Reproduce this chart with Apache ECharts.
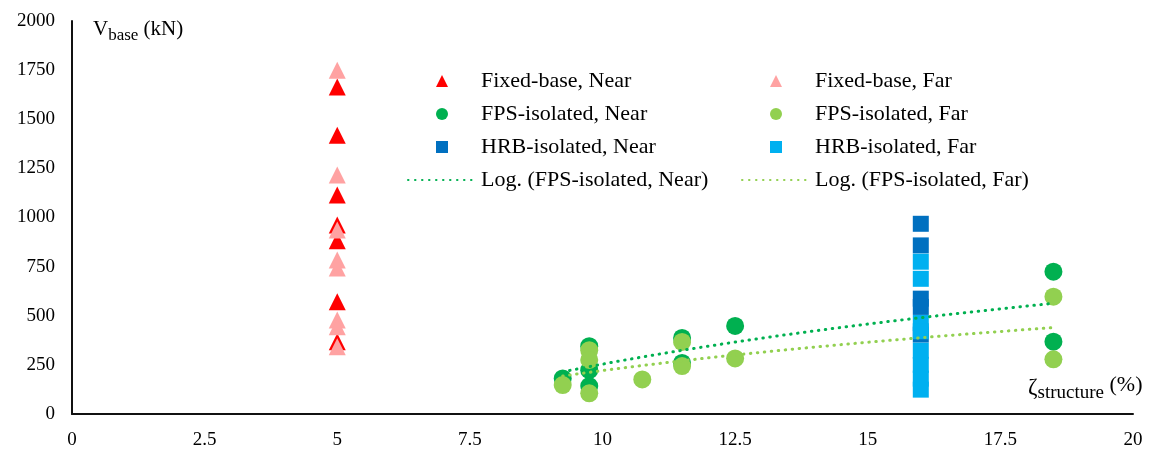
<!DOCTYPE html>
<html>
<head>
<meta charset="utf-8">
<script src="https://cdn.jsdelivr.net/npm/echarts@6/dist/echarts.min.js"></script>
<style>
  html, body { margin: 0; padding: 0; background: #ffffff; }
  #chart { width: 1153px; height: 452px; }
</style>
</head>
<body>
<div id="chart"></div>
<script>
// Base shear V_base (kN) against structural damping ratio (%)
const xTickLabels = ['0', '2.5', '5', '7.5', '10', '12.5', '15', '17.5', '20'];
const yTickLabels = ['0', '250', '500', '750', '1000', '1250', '1500', '1750', '2000'];

const fixedNear = [[5, 1664], [5, 1418], [5, 1115], [5, 962], [5, 882], [5, 571], [5, 368]];
const fixedFar = [[5, 1750], [5, 1216], [5, 936], [5, 784], [5, 743], [5, 478], [5, 444], [5, 342]];

const fpsNear = [[9.25, 181], [9.75, 345], [9.75, 223], [9.75, 142], [11.5, 387], [11.5, 260],
                 [12.5, 448], [18.5, 724], [18.5, 368]];
const fpsFar = [[9.25, 147], [9.75, 325], [9.75, 275], [9.75, 105], [10.75, 176], [11.5, 367],
                [11.5, 244], [12.5, 283], [18.5, 597], [18.5, 278]];

const hrbNear = [[16, 968], [16, 858], [16, 587], [16, 545], [16, 404]];
const hrbFar = [[16, 775], [16, 688], [16, 463], [16, 421], [16, 322], [16, 250], [16, 180], [16, 124]];

const FONT = 'Liberation Serif';

// Least-squares fit of y = a*ln(x) + b, sampled between the smallest and largest x
function logTrend(points, steps) {
  const n = points.length;
  let sx = 0, sy = 0, sxx = 0, sxy = 0;
  points.forEach(([x, y]) => {
    const lx = Math.log(x);
    sx += lx; sy += y; sxx += lx * lx; sxy += lx * y;
  });
  const a = (n * sxy - sx * sy) / (n * sxx - sx * sx);
  const b = (sy - a * sx) / n;
  const xs = points.map(p => p[0]);
  const x0 = Math.min(...xs), x1 = Math.max(...xs);
  const out = [];
  for (let i = 0; i <= steps; i++) {
    const x = x0 + (x1 - x0) * i / steps;
    out.push([x, a * Math.log(x) + b]);
  }
  return out;
}

const scatter = (name, data, symbol, size, color) => ({
  name, type: 'scatter', data, symbol, symbolSize: size,
  itemStyle: { color, opacity: 1 },
  emphasis: { disabled: true }
});

const trend = (name, data, color) => ({
  name, type: 'line', data: logTrend(data, 60), symbol: 'none', smooth: false,
  lineStyle: { color, width: 3, type: [0.5, 6.5], cap: 'round' },
  itemStyle: { color },
  emphasis: { disabled: true }
});

// Legend icons kept square and centred inside the wide legend slot
const ICON_TRI = 'path://M10,0L20,20L0,20Z';
const ICON_DOT = 'path://M10,0A10,10,0,1,1,10,20A10,10,0,1,1,10,0Z';
const ICON_SQ = 'path://M0,0H20V20H0Z';
const hiddenMarker = { opacity: 0 };

const legendText = { fontFamily: FONT, fontSize: 22, color: '#000', lineHeight: 22 };
const legendBase = {
  orient: 'vertical', top: 65, itemWidth: 68, itemHeight: 12, itemGap: 11,
  textStyle: legendText, selectedMode: false, symbolKeepAspect: true
};

// Axis titles with subscripts, laid out piece by piece
const measureCtx = document.createElement('canvas').getContext('2d');
function titleGroup(parts, x, yMid) {
  const children = [];
  let cx = x;
  parts.forEach(p => {
    measureCtx.font = p.size + 'px "' + FONT + '"';
    children.push({
      type: 'text', x: cx, y: yMid + p.dy,
      style: { text: p.text, fontFamily: FONT, fontSize: p.size, fill: '#000',
               verticalAlign: 'middle', align: 'left' }
    });
    cx += measureCtx.measureText(p.text).width;
  });
  return { type: 'group', children };
}

const chart = echarts.init(document.getElementById('chart'), null, { renderer: 'canvas' });
chart.setOption({
  animation: false,
  backgroundColor: '#ffffff',
  grid: { left: 72, right: 20, top: 21, bottom: 38, containLabel: false },
  xAxis: {
    type: 'value', min: 0, max: 20, interval: 2.5,
    axisLine: { show: true, onZero: false, lineStyle: { color: '#111', width: 2 } },
    axisTick: { show: false },
    splitLine: { show: false },
    axisLabel: {
      margin: 17, fontFamily: FONT, fontSize: 19, color: '#000',
      formatter: v => xTickLabels[Math.round(v / 2.5)]
    }
  },
  yAxis: {
    type: 'value', min: 0, max: 2000, interval: 250,
    axisLine: { show: true, onZero: false, lineStyle: { color: '#111', width: 2 } },
    axisTick: { show: false },
    splitLine: { show: false },
    axisLabel: {
      margin: 17, fontFamily: FONT, fontSize: 19, color: '#000',
      formatter: v => yTickLabels[Math.round(v / 250)]
    }
  },
  legend: [
    Object.assign({}, legendBase, {
      left: 402,
      data: [
        { name: 'Fixed-base, Near', icon: ICON_TRI },
        { name: 'FPS-isolated, Near', icon: ICON_DOT },
        { name: 'HRB-isolated, Near', icon: ICON_SQ },
        { name: 'Log. (FPS-isolated, Near)', itemStyle: hiddenMarker }
      ]
    }),
    Object.assign({}, legendBase, {
      left: 736,
      data: [
        { name: 'Fixed-base, Far', icon: ICON_TRI },
        { name: 'FPS-isolated, Far', icon: ICON_DOT },
        { name: 'HRB-isolated, Far', icon: ICON_SQ },
        { name: 'Log. (FPS-isolated, Far)', itemStyle: hiddenMarker }
      ]
    })
  ],
  graphic: [
    titleGroup([
      { text: 'V', size: 21, dy: 0 },
      { text: 'base', size: 17, dy: 7 },
      { text: ' (kN)', size: 21, dy: 0 }
    ], 93, 29),
    titleGroup([
      { text: 'ζ', size: 23, dy: 1 },
      { text: 'structure', size: 19, dy: 6 },
      { text: ' (%)', size: 22, dy: -2 }
    ], 1028, 387)
  ],
  series: [
    scatter('Fixed-base, Near', fixedNear, 'triangle', 17, '#ff0000'),
    scatter('Fixed-base, Far', fixedFar, 'triangle', 17, '#ffa2a2'),
    scatter('FPS-isolated, Near', fpsNear, 'circle', 18, '#00b050'),
    scatter('FPS-isolated, Far', fpsFar, 'circle', 18, '#92d050'),
    scatter('HRB-isolated, Near', hrbNear, 'rect', 16, '#0070c0'),
    scatter('HRB-isolated, Far', hrbFar, 'rect', 16, '#00b0f0'),
    trend('Log. (FPS-isolated, Near)', fpsNear, '#00b050'),
    trend('Log. (FPS-isolated, Far)', fpsFar, '#92d050')
  ]
});
</script>
</body>
</html>
